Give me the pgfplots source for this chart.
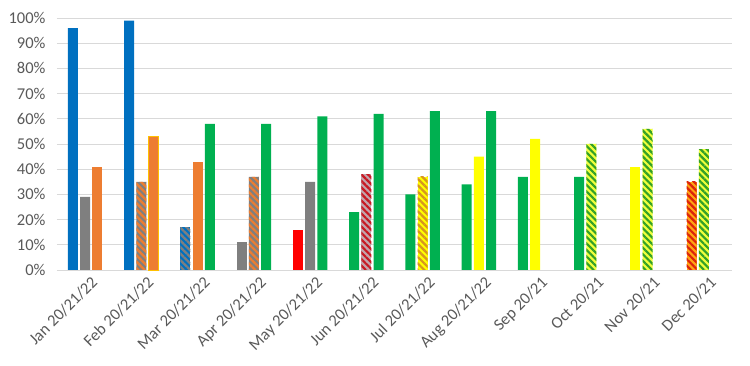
\documentclass[border=0pt]{standalone}
\usepackage{pgfplots}
\pgfplotsset{compat=1.18}
\usetikzlibrary{patterns.meta}
\usepackage{fontspec}
\setmainfont{Carlito}
\definecolor{cBlue}{HTML}{0070C0}
\definecolor{cGray}{HTML}{7F7F7F}
\definecolor{cOrange}{HTML}{ED7D31}
\definecolor{cGreen}{HTML}{00B050}
\definecolor{cRed}{HTML}{FF0000}
\definecolor{cYellow}{HTML}{FFFF00}
\definecolor{cPink}{RGB}{195,165,172}
\definecolor{cDRed}{RGB}{200,25,35}
\definecolor{cDOrange}{RGB}{215,150,30}
\definecolor{cSGreen}{RGB}{50,160,40}
\definecolor{cLYellow}{RGB}{240,255,60}
\definecolor{cAmber}{RGB}{255,165,20}
\definecolor{cRRed}{RGB}{220,35,10}
\definecolor{gridgray}{HTML}{D9D9D9}
\definecolor{labelgray}{HTML}{595959}
\tikzset{
  stripes/.style 2 args={fill=#1, postaction={pattern={Lines[angle=-45,distance=4.6pt,line width=2.2pt]}, pattern color=#2}}
}
\begin{document}
\begin{tikzpicture}
\useasboundingbox (-57pt,-96pt) rectangle (693pt,270pt);
\begin{axis}[
  at={(0,0)}, anchor=south west,
  scale only axis, width=675pt, height=252pt,
  ybar, bar width=10pt,
  xmin=-0.5, xmax=11.5, ymin=0, ymax=100,
  xtick={0,...,11},
  xticklabels={Jan 20/21/22,Feb 20/21/22,Mar 20/21/22,Apr 20/21/22,May 20/21/22,Jun 20/21/22,Jul 20/21/22,Aug 20/21/22,Sep 20/21,Oct 20/21,Nov 20/21,Dec 20/21},
  x tick label style={rotate=45, anchor=north east, font=\fontsize{16.5}{18}\selectfont, text=labelgray, inner sep=1pt, xshift=4pt, yshift=-3pt},
  ytick={0,10,...,100},
  yticklabels={0\%,10\%,20\%,30\%,40\%,50\%,60\%,70\%,80\%,90\%,100\%},
  y tick label style={font=\fontsize{16.5}{18}\selectfont, text=labelgray, xshift=-8pt},
  ymajorgrids, grid style={gridgray, line width=0.9pt},
  axis line style={draw=none},
  tick style={draw=none},
  clip=false,
]
% solid blue
\addplot[fill=cBlue, draw=none, bar shift=-12.3pt] coordinates {(0,96) (1,99)};
% solid gray
\addplot[fill=cGray, draw=none, bar shift=0pt] coordinates {(0,29) (4,35)};
\addplot[fill=cGray, draw=none, bar shift=-12.3pt] coordinates {(3,11)};
% solid orange
\addplot[fill=cOrange, draw=none, bar shift=12.3pt] coordinates {(0,41)};
\addplot[fill=cOrange, draw={rgb,255:red,255;green,192;blue,0}, line width=0.6pt, bar shift=12.3pt] coordinates {(1,53)};
\addplot[fill=cOrange, draw=none, bar shift=0pt] coordinates {(2,43)};
% solid green
\addplot[fill=cGreen, draw=none, bar shift=12.3pt] coordinates {(2,58) (3,58) (4,61) (5,62) (6,63) (7,63)};
\addplot[fill=cGreen, draw=none, bar shift=-12.3pt] coordinates {(5,23) (6,30) (7,34) (8,37) (9,37)};
% solid red
\addplot[fill=cRed, draw=none, bar shift=-12.3pt] coordinates {(4,16)};
% solid yellow
\addplot[fill=cYellow, draw=none, bar shift=0pt] coordinates {(7,45) (8,52)};
\addplot[fill=cYellow, draw=none, bar shift=-12.3pt] coordinates {(10,41)};
% striped gray/orange
\addplot[stripes={cGray}{cOrange}, draw=none, bar shift=0pt] coordinates {(1,35) (3,37)};
% striped blue/gray
\addplot[stripes={cBlue}{cGray}, draw=none, bar shift=-12.3pt] coordinates {(2,17)};
% striped pink/red
\addplot[stripes={cPink}{cDRed}, draw=none, bar shift=0pt] coordinates {(5,38)};
% striped yellow/orange
\addplot[stripes={cYellow}{cDOrange}, draw=none, bar shift=0pt] coordinates {(6,37)};
% striped yellow/green
\addplot[stripes={cLYellow}{cSGreen}, draw=none, bar shift=0pt] coordinates {(9,50) (10,56) (11,48)};
% striped amber/red
\addplot[stripes={cAmber}{cRRed}, draw=none, bar shift=-12.3pt] coordinates {(11,35)};
\end{axis}
\end{tikzpicture}
\end{document}
